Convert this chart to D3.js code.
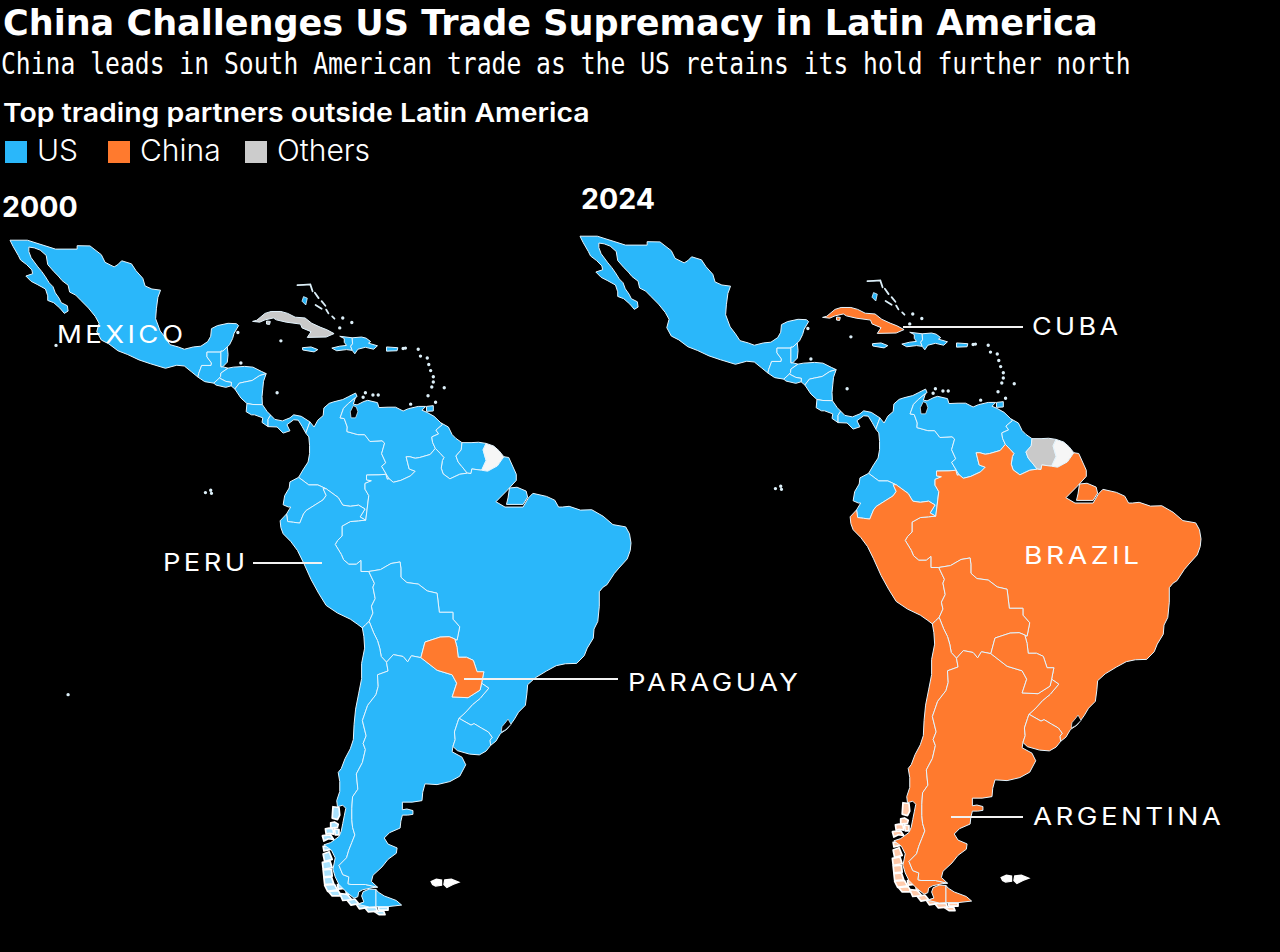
<!DOCTYPE html>
<html>
<head>
<meta charset="utf-8">
<script src="https://cdnjs.cloudflare.com/ajax/libs/d3/7.8.5/d3.min.js"></script>
<style>
  html, body { margin: 0; padding: 0; background: #000; }
  svg { display: block; }
  text { fill: #fff; font-family: Inter, "Noto Sans", sans-serif; }
</style>
</head>
<body>
<svg id="chart" width="1280" height="952"></svg>
<script>
// Outlines are lon/lat. Shared borders are one arc each.
var mxPacific = [[-117.1,32.5],[-116.7,31.7],[-116,30.5],[-115.7,29.9],[-114.9,29.3],[-114.2,28.6],[-114.1,28.1],[-115,27.8],[-114.3,27.1],[-113.5,26.7],[-112.4,26.1],[-112.1,25.2],[-112.1,24.6],[-111.3,24.3],[-110.5,23.6],[-109.9,22.9],[-109.4,23.2],[-109.5,23.9],[-110.3,24.3],[-110.6,24.9],[-111.1,25.6],[-111.4,26.4],[-111.9,26.9],[-112.4,27.7],[-112.9,28.4],[-113.4,29],[-114.3,30.2],[-114.6,31],[-114.6,31.6],[-113.9,31.5],[-113.1,31.2],[-112.3,30.5],[-112.1,29.3],[-111.3,28.4],[-110.7,27.8],[-110.2,27.2],[-109.4,26.6],[-109.2,25.7],[-108.4,25.3],[-107.7,24.6],[-106.7,23.6],[-105.8,22.5],[-105.3,21.6],[-105.6,20.5],[-105,19.4],[-104,18.9],[-102.8,18],[-101.5,17.5],[-100,16.8],[-98.5,16.3],[-96.5,15.7],[-95,16.1],[-94,16],[-93,15.2],[-92.2,14.55]];
var mxGt = [[-92.2,14.55],[-92.1,15],[-91.7,16.07],[-90.45,16.07],[-90.4,16.4],[-91,17.2],[-91,17.82],[-89.15,17.82]];
var mxBz = [[-89.15,17.82],[-89.15,17.95],[-88.9,17.95],[-88.3,18.5]];
var mxGulf = [[-88.3,18.5],[-88,18.8],[-87.6,19.6],[-87.4,20.3],[-86.8,21.3],[-87.1,21.55],[-88.2,21.6],[-89.6,21.3],[-90.4,20.9],[-90.5,19.9],[-90.9,19.2],[-91.8,18.6],[-92.8,18.5],[-94,18.2],[-94.8,18.5],[-95.9,18.8],[-96.5,19.7],[-97.2,20.6],[-97.8,22.2],[-97.7,23.5],[-97.5,25],[-97.15,25.95]];
var mxUs = [[-97.15,25.95],[-98.3,26.1],[-99.2,26.5],[-99.5,27.5],[-100.4,28.5],[-101,29.4],[-102.3,29.8],[-102.8,29.3],[-103.3,29],[-104.5,29.6],[-105,30.6],[-106.5,31.75],[-108.2,31.78],[-108.2,31.33],[-111.07,31.33],[-114.8,32.5],[-117.1,32.5]];
var gtBz = [[-89.15,17.82],[-89.15,15.9],[-88.9,15.9]];
var gtCarib = [[-88.9,15.9],[-88.2,15.72]];
var gtHn = [[-88.2,15.72],[-89.15,15.07],[-89.2,14.6],[-89.35,14.42]];
var gtSv = [[-89.35,14.42],[-90.1,13.75]];
var gtPacific = [[-90.1,13.75],[-91.3,13.95],[-92.2,14.55]];
var bzCoast = [[-88.3,18.5],[-88.2,17.5],[-88.3,16.5],[-88.9,15.9]];
var svHn = [[-89.35,14.42],[-88.5,13.98],[-87.75,13.85],[-87.8,13.4]];
var svPacific = [[-87.8,13.4],[-88.5,13.2],[-89.8,13.5],[-90.1,13.75]];
var hnCarib = [[-88.2,15.72],[-87.5,15.85],[-86,15.95],[-84.9,15.85],[-83.8,15.3],[-83.15,15]];
var hnNi = [[-83.15,15],[-84,14.75],[-85,14.1],[-86,13.9],[-86.7,13.75],[-87.3,12.98]];
var hnPacific = [[-87.3,12.98],[-87.8,13.4]];
var niCarib = [[-83.15,15],[-83.5,14],[-83.6,13],[-83.7,12],[-83.65,10.93]];
var niCr = [[-83.65,10.93],[-84.9,10.95],[-85.7,11.08]];
var niPacific = [[-85.7,11.08],[-86.5,11.8],[-87.3,12.98]];
var crCarib = [[-83.65,10.93],[-83,10],[-82.56,9.56]];
var crPa = [[-82.56,9.56],[-82.9,9],[-82.9,8.05]];
var crPacific = [[-82.9,8.05],[-83.7,8.6],[-83.6,9.2],[-84.7,9.6],[-85.1,9.6],[-85.8,10],[-85.7,11.08]];
var paCarib = [[-82.56,9.56],[-82,9],[-81,8.8],[-80,9.2],[-79.5,9.6],[-78.5,9.4],[-77.35,8.67]];
var paCo = [[-77.35,8.67],[-77.9,7.2]];
var paPacific = [[-77.9,7.2],[-78.4,8.1],[-78.9,8.9],[-79.5,8.95],[-80.4,8.3],[-80,7.5],[-80.9,7.2],[-81.7,8],[-82.9,8.05]];
var coCarib = [[-77.35,8.67],[-76.8,8],[-76.3,8.9],[-75.6,9.5],[-75.5,10.5],[-74.8,11.1],[-74.2,11.3],[-73,11.6],[-72.2,12],[-71.3,12.45],[-71.1,12],[-71.32,11.85]];
var coVe = [[-71.32,11.85],[-72.25,11.1],[-72.9,10.45],[-73.35,9.2],[-72.8,9.1],[-72.4,8],[-72.45,7.4],[-71,7],[-70.1,7],[-69.4,6.1],[-67.8,6.2],[-67.45,5.9],[-67.85,4.5],[-67.3,3.3],[-67.85,2.85],[-66.87,1.22]];
var coBr = [[-66.87,1.22],[-67.1,1.15],[-67.3,1.8],[-68.2,1.72],[-69.85,1.7],[-69.85,1.07],[-69.2,0.95],[-70.05,0.6],[-70.05,-0.15],[-69.55,-1],[-69.95,-4.22]];
var coPe = [[-69.95,-4.22],[-70.7,-3.8],[-70.05,-2.75],[-70.9,-2.25],[-72,-2.4],[-73,-2.25],[-73.6,-1.25],[-75.2,-0.1]];
var coEc = [[-75.2,-0.1],[-76.3,0.4],[-77.5,0.4],[-78.85,1.4]];
var coPacific = [[-78.85,1.4],[-78.2,2.5],[-77.6,3.4],[-77.4,4.5],[-77.4,5.6],[-77.5,6.7],[-77.9,7.2]];
var veCarib = [[-71.32,11.85],[-71.6,11],[-71.1,10.9],[-70.2,11.35],[-69.7,11.5],[-68.4,11.2],[-68.2,10.55],[-67,10.6],[-66,10.6],[-65,10.1],[-64.3,10.4],[-63,10.7],[-62,10.7],[-62.5,10.2],[-61.8,9.9],[-60.9,9.4],[-60,8.55]];
var veGy = [[-60,8.55],[-59.8,8.3],[-60.65,7.6],[-60.3,7.1],[-61.2,6.7],[-61.1,6],[-60.73,5.2]];
var veBr = [[-60.73,5.2],[-61.4,4.4],[-62.8,4],[-63.4,3.9],[-64.1,4.1],[-64.6,4.1],[-64.2,2.5],[-63.4,2.2],[-64,1.6],[-65.3,1],[-66.3,0.75],[-66.87,1.22]];
var gyCoast = [[-60,8.55],[-59,8],[-58.5,7],[-58,6.5],[-57.2,5.95]];
var gySr = [[-57.2,5.95],[-57.3,5],[-58,4.2],[-57.7,3.4],[-57.2,2.8],[-56.5,1.95]];
var gyBr = [[-56.5,1.95],[-57.5,1.8],[-58.8,1.2],[-59.7,1.85],[-59.95,2.6],[-59.8,3.6],[-59.6,4],[-60.1,4.55],[-60.73,5.2]];
var srCoast = [[-57.2,5.95],[-56,5.95],[-55,6],[-54,5.85]];
var srGf = [[-54,5.85],[-54.4,5],[-54,3.6],[-54.6,2.33]];
var srBr = [[-54.6,2.33],[-55.9,2.5],[-56,1.9],[-56.5,1.95]];
var gfCoast = [[-54,5.85],[-53,5.5],[-52.3,4.9],[-51.65,4.1]];
var gfBr = [[-51.65,4.1],[-52.5,2.9],[-53.8,2.2],[-54.6,2.33]];
var brCoast = [[-51.65,4.1],[-51,4],[-50,1.8],[-50,1],[-51.2,-0.3],[-52.7,-1.8],[-51.5,-2.5],[-49.1,-2.5],[-48.4,-1.3],[-47.8,-0.7],[-46,-1.1],[-44.9,-1.6],[-44.4,-2.5],[-43.9,-2.5],[-43,-2.4],[-41.5,-2.9],[-40,-2.85],[-38.5,-3.7],[-37.2,-4.8],[-35.5,-5.1],[-35,-6],[-34.8,-7.2],[-34.9,-8.2],[-35.3,-9.3],[-36.4,-10.5],[-37,-11.2],[-38,-12.7],[-38.5,-13],[-39,-13.6],[-39,-15.5],[-39.2,-17.5],[-39.7,-18.5],[-39.8,-19.7],[-40.6,-21],[-41,-22],[-42,-23],[-43.5,-23.05],[-44.7,-23.3],[-46,-24],[-47.5,-24.9],[-48.5,-25.8],[-48.6,-27],[-48.8,-28.5],[-49.7,-29.4],[-50.3,-30.4],[-51.2,-31.6],[-52.1,-32.2],[-52.7,-33.2],[-53.4,-33.75]];
var brUy = [[-53.4,-33.75],[-53.5,-33.1],[-53.2,-32.7],[-53.7,-32],[-54.6,-31.5],[-55.6,-30.9],[-56,-31.1],[-57.6,-30.2]];
var brAr = [[-57.6,-30.2],[-56.8,-29.5],[-55.8,-28.4],[-54.8,-27.6],[-53.65,-26.25],[-54.6,-25.6]];
var brPy = [[-54.6,-25.6],[-54.3,-24.1],[-55.2,-24.1],[-55.7,-22.6],[-56.6,-22.2],[-57.7,-22.2],[-57.85,-20.9],[-58.15,-19.8]];
var brBo = [[-58.15,-19.8],[-57.85,-19.95],[-57.5,-18.2],[-58.4,-17.2],[-58.4,-16.3],[-60.2,-16.3],[-60.5,-13.8],[-61.8,-13.5],[-63,-12.6],[-64.5,-12.4],[-65.3,-11.7],[-65.3,-10.5],[-65.4,-9.7],[-66.6,-9.9],[-68,-10.7],[-69.55,-10.95]];
var brPe = [[-69.55,-10.95],[-70.6,-10.95],[-70.6,-9.5],[-71.2,-10],[-72.2,-10],[-72.9,-9.4],[-73.2,-8.7],[-74,-7.4],[-73.7,-6.9],[-73.1,-6.3],[-73.1,-5],[-72,-4.4],[-70.9,-4.3],[-69.95,-4.22]];
var ecPacific = [[-78.85,1.4],[-80,0.8],[-80.1,0],[-80.7,-1],[-80.9,-2.2],[-80.2,-2.5],[-79.9,-2.5],[-80.45,-3.4]];
var ecPe = [[-80.45,-3.4],[-80.3,-4.4],[-79.5,-4.5],[-78.7,-4.6],[-78.2,-3.4],[-77.85,-2.95],[-75.6,-1.55],[-75.2,-0.97],[-75.6,-0.1],[-75.2,-0.1]];
var peCoast = [[-80.45,-3.4],[-81.3,-4.3],[-81.2,-5.2],[-80.9,-6],[-79.9,-7],[-79,-8.2],[-78.2,-9.8],[-77.2,-12],[-76.2,-13.8],[-75.2,-15.4],[-73.7,-16.4],[-72,-17.2],[-71,-17.9],[-70.4,-18.35]];
var peCl = [[-70.4,-18.35],[-69.95,-17.9],[-69.5,-17.5]];
var peBo = [[-69.5,-17.5],[-69,-16.4],[-69.2,-15.5],[-68.7,-14.5],[-69,-13],[-68.8,-12.5],[-69.55,-10.95]];
var boCl = [[-69.5,-17.5],[-68.9,-19],[-68.4,-20],[-68.1,-21],[-67.9,-22.1],[-67.2,-22.85]];
var boAr = [[-67.2,-22.85],[-66.3,-21.85],[-65,-22.1],[-64.4,-22.8],[-63.9,-22],[-62.65,-22.25]];
var boPy = [[-62.65,-22.25],[-62.1,-20.2],[-60.1,-19.55],[-58.9,-19.5],[-58.15,-19.8]];
var pyAr = [[-62.65,-22.25],[-60.5,-23.9],[-58.5,-24.5],[-57.9,-25.6],[-58.5,-27.4],[-56.4,-27.5],[-54.8,-26.5],[-54.6,-25.6]];
var arCl = [[-67.2,-22.85],[-67,-24],[-68.4,-24.5],[-68.3,-26],[-68.6,-27.1],[-69.7,-28.5],[-70.4,-30.5],[-69.9,-32.5],[-70.3,-33.5],[-70,-34.3],[-70.4,-36],[-71.2,-37.5],[-71,-39.5],[-71.7,-40.5],[-71.8,-42],[-71.8,-43.5],[-71.7,-44.5],[-71.4,-45.5],[-71.8,-46.5],[-72.2,-47.5],[-72.5,-48.5],[-73.5,-49.5],[-73,-50.7],[-72.2,-51],[-72.3,-51.9],[-71.9,-52],[-70,-52],[-68.4,-52.35]];
var arCoast = [[-58.4,-33.9],[-58.5,-34.6],[-57.2,-35.3],[-56.7,-36.3],[-57.5,-37.8],[-58.8,-38.5],[-60.5,-38.9],[-62.1,-38.8],[-62.4,-39.9],[-62.5,-41],[-63.8,-41.2],[-65.1,-41.2],[-65.1,-42.2],[-64.5,-42.1],[-63.7,-42.3],[-63.7,-42.8],[-64.4,-42.9],[-65.1,-42.9],[-65.3,-43.7],[-65.4,-44.6],[-66.8,-45.2],[-67.5,-45.9],[-67,-46.7],[-65.8,-47.2],[-65.9,-47.9],[-67,-48.7],[-67.8,-49.7],[-69,-50.8],[-69.2,-51.6],[-68.4,-52.35]];
var arUy = [[-58.4,-33.9],[-58.1,-33],[-58.2,-32],[-57.8,-30.8],[-57.6,-30.2]];
var uyCoast = [[-53.4,-33.75],[-54,-34.5],[-54.9,-35],[-56.2,-34.9],[-57.8,-34.45],[-58.4,-33.9]];
var clCoast = [[-70.4,-18.35],[-70.2,-19.5],[-70.1,-21],[-70.5,-23],[-70.5,-25],[-70.9,-27],[-71.3,-29],[-71.5,-31],[-71.6,-33],[-72,-34.2],[-72.7,-35.5],[-73.2,-36.8],[-73.6,-37.3],[-73.4,-38.5],[-73.4,-39.8],[-73.8,-41],[-73.7,-41.8],[-73,-41.6],[-72.6,-42],[-72.8,-43],[-73,-44],[-73.2,-45],[-73.5,-45.7],[-74.6,-46.5],[-75.5,-46.8],[-74.5,-47.5],[-74,-48.5],[-74.3,-50],[-74,-51],[-73.5,-52],[-72.5,-53],[-71.5,-53.8],[-71,-53.6],[-70.9,-53],[-70.4,-52.7],[-69,-52.4],[-68.4,-52.35]];

// islands, one ring each
var marajo = [[-50.9,0],[-49.9,0.1],[-48.7,-0.4],[-48.5,-1.2],[-49.1,-2.15],[-51.3,-2.15],[-51.1,-1.3]];
var tdfArgentina = [[-68.6,-52.65],[-68.6,-54.9],[-67,-54.9],[-65.2,-54.7],[-65.9,-54.1],[-67.5,-53.5],[-68.3,-53]];
var tdfChile = [[-68.6,-52.65],[-69.5,-52.6],[-70.3,-52.95],[-70.5,-53.5],[-70.2,-54.3],[-71,-54.6],[-69.5,-54.95],[-68.6,-54.9]];
var cuba = [[-84.95,21.85],[-84.4,22],[-83.3,22.9],[-82.5,23.15],[-81.2,23.15],[-80.3,22.9],[-79.3,22.4],[-78,22.3],[-77.1,21.6],[-76,21.1],[-75.1,20.75],[-74.15,20.25],[-75.2,19.8],[-77.7,19.75],[-77.2,20.5],[-78.4,21],[-78.6,21.5],[-80.5,21.75],[-81.8,22.05],[-82.2,22.3],[-83.3,22.05],[-84,21.75]];
var juventud = [[-83.1,21.9],[-82.6,21.85],[-82.7,21.45],[-83.1,21.5]];
var jamaica = [[-78.35,18.4],[-77.2,18.5],[-76.3,18.15],[-76.8,17.85],[-78.3,18.1]];
var haiti = [[-73.4,19.9],[-71.75,19.7],[-71.7,18.9],[-71.95,18.6],[-71.75,18.05],[-72.5,18.15],[-73.8,18],[-74.45,18.35],[-73.4,18.6],[-72.5,18.7],[-72.8,19.1],[-72.8,19.6]];
var dominican = [[-71.75,19.7],[-70.5,19.8],[-69.9,19.65],[-69.3,19.2],[-69.6,19],[-68.4,18.65],[-68.9,18.2],[-70,18.45],[-71,18.2],[-71.4,17.6],[-71.75,18.05],[-71.95,18.6],[-71.7,18.9]];
var puertoRico = [[-67.2,18.5],[-65.7,18.4],[-65.8,18],[-67.2,17.95]];
var trinidad = [[-61.9,10.7],[-61,10.8],[-61,10.1],[-61.9,10.05]];
var andros = [[-78.2,25.1],[-77.7,24.9],[-77.9,24],[-78.4,24.5]];
var falklandEast = [[-59.5,-51.4],[-58.6,-51.3],[-57.6,-51.7],[-58.4,-52],[-59.2,-52.4],[-59.6,-52]];
var falklandWest = [[-61.3,-51.6],[-60.6,-51.3],[-59.9,-51.4],[-59.9,-52.1],[-60.7,-52.2],[-61.1,-52]];

// southern Chile archipelago
var chileIslands = [
  [[-74.3,-41.8],[-73.5,-41.9],[-73.4,-42.9],[-73.7,-43.5],[-74.4,-43.3]],
  [[-74.6,-43.9],[-74.1,-43.8],[-73.6,-44.1],[-73.7,-44.5],[-74.6,-44.6]],
  [[-75.3,-44.7],[-74.8,-44.6],[-74.3,-44.7],[-74.2,-45.4],[-74.8,-45.3],[-75.2,-45.4]],
  [[-74.1,-44.7],[-73.5,-44.8],[-73.5,-45.5],[-74,-45.5]],
  [[-75.7,-45.6],[-74.6,-45.5],[-74.2,-46.1],[-74.9,-46],[-75.5,-46.3]],
  [[-75.6,-47],[-74.8,-46.9],[-74.6,-47.4],[-75.5,-47.6]],
  [[-75.6,-48],[-74.8,-47.7],[-74.4,-48.7],[-75.4,-49]],
  [[-75.7,-49.1],[-74.7,-48.9],[-74.4,-49.8],[-75.6,-50]],
  [[-75.6,-50.1],[-74.5,-50],[-74.4,-50.9],[-75.5,-51]],
  [[-75.5,-51.1],[-74.5,-51],[-74.2,-51.9],[-75.4,-52]],
  [[-75.4,-52.1],[-74.1,-52],[-73.7,-52.7],[-75,-52.9]],
  [[-74.9,-52.9],[-73.6,-52.8],[-73.2,-53.5],[-74.4,-53.5]],
  [[-73.4,-53.2],[-72.4,-53.3],[-71.8,-54],[-73,-54.1]],
  [[-72.4,-54.1],[-71.4,-53.9],[-70.9,-54.5],[-71.9,-54.7]],
  [[-71.2,-54.6],[-70,-54.4],[-69.6,-55],[-70.8,-55.2]],
  [[-70.1,-55],[-68.6,-55],[-68.4,-55.5],[-69.6,-55.6]],
  [[-68.3,-54.95],[-67,-54.95],[-67,-55.35],[-68.2,-55.35]],
  [[-68.8,-55.55],[-67.6,-55.45],[-67.4,-55.95],[-68.2,-55.95]],
  [[-73.7,-52],[-72.9,-52],[-72.8,-52.5],[-73.6,-52.6]],
  [[-72.6,-52.7],[-71.6,-52.6],[-71.6,-53.3],[-72.5,-53.3]]
];

// black water cut into the land
var lakes = [
  [[-71.6,10.8],[-71.2,10.6],[-71,10],[-71.3,9.2],[-71.9,9.2],[-72,10]],
  [[-51.1,-30.3],[-50.7,-31],[-51.4,-31.7],[-52,-32],[-51.9,-31.3],[-51.3,-30.6]]
];

// little islands too small to have an outline
var islets = [[-91.2,-0.6],[-90.4,-0.7],[-90.5,-0.3],[-81.2,19.3],[-81.7,12.5],[-86.5,16.4],[-86.9,20.4],[-73.4,21],[-73,22.3],[-71.8,21.7],[-64.7,18.35],[-65,18.3],[-63,18.2],[-62.7,17.3],[-61.8,17.05],[-61.6,16.2],[-61.35,15.4],[-61,14.6],[-61,13.9],[-61.2,13.25],[-61.7,12.1],[-59.55,13.15],[-60.7,11.25],[-70.3,11.9],[-70,12.5],[-69,12.2],[-68.3,12.2],[-64,11]];
var isletsFar2000 = [[-111,18.7],[-109.4,-27.1]];
var bahamasChains = [
  [[-79,26.6],[-78.2,26.65],[-77.3,26.7],[-77,25.8]],
  [[-76.7,25.6],[-76.2,24.9]],
  [[-75.8,24.5],[-75.3,23.9]],
  [[-76.6,24],[-75.8,23.5]],
  [[-75.2,23.4],[-74.9,22.9]],
  [[-74.4,22.5],[-74.1,22.2]]
];

var countryNames = ['Mexico','Guatemala','Belize','Honduras','El Salvador','Nicaragua','Costa Rica','Panama','Colombia','Venezuela','Guyana','Suriname','French Guiana','Brazil','Ecuador','Peru','Bolivia','Chile','Argentina','Paraguay','Uruguay','Cuba','Jamaica','Haiti','Dominican Republic','Puerto Rico','Trinidad'];

// everything not listed here goes to the US
var china2000 = ['Paraguay'];
var others2000 = ['Cuba'];
var pale2000 = ['French Guiana'];
var china2024 = ['Cuba','Brazil','Peru','Bolivia','Chile','Argentina','Paraguay','Uruguay'];
var others2024 = ['Suriname'];
var pale2024 = ['French Guiana'];

var legendLabels = ['US','China','Others'];
var calloutNames2000 = ['MEXICO','PERU','PARAGUAY'];
var calloutNames2024 = ['CUBA','BRAZIL','ARGENTINA'];

var BLUE = '#2AB7FA', ORANGE = '#FF7A2E', GREY = '#C9C9C9', PALE = '#F6F6F6';

function rev(a) { return a.slice().reverse(); }
function ring() {
  var pts = [].concat.apply([], arguments);
  return pts.concat([pts[0]]);
}
function poly(a) { return a.concat([a[0]]); }

var rings = {
  'Mexico': [ring(mxPacific, mxGt, mxBz, mxGulf, mxUs)],
  'Guatemala': [ring(mxGt, gtBz, gtCarib, gtHn, gtSv, gtPacific)],
  'Belize': [ring(mxBz, bzCoast, rev(gtBz))],
  'Honduras': [ring(hnCarib, hnNi, hnPacific, rev(svHn), rev(gtHn))],
  'El Salvador': [ring(svHn, svPacific, rev(gtSv))],
  'Nicaragua': [ring(niCarib, niCr, niPacific, rev(hnNi))],
  'Costa Rica': [ring(crCarib, crPa, crPacific, rev(niCr))],
  'Panama': [ring(paCarib, paCo, paPacific, rev(crPa))],
  'Colombia': [ring(coCarib, coVe, coBr, coPe, coEc, coPacific, rev(paCo))],
  'Venezuela': [ring(veCarib, veGy, veBr, rev(coVe))],
  'Guyana': [ring(gyCoast, gySr, gyBr, rev(veGy))],
  'Suriname': [ring(srCoast, srGf, srBr, rev(gySr))],
  'French Guiana': [ring(gfCoast, gfBr, rev(srGf))],
  'Brazil': [ring(brCoast, brUy, brAr, brPy, brBo, brPe, rev(coBr), rev(veBr), rev(gyBr), rev(srBr), rev(gfBr)), poly(marajo)],
  'Ecuador': [ring(coEc, ecPacific, ecPe)],
  'Peru': [ring(rev(ecPe), peCoast, peCl, peBo, brPe, coPe)],
  'Bolivia': [ring(rev(peBo), boCl, boAr, boPy, brBo)],
  'Chile': [ring(clCoast, rev(arCl), rev(boCl), rev(peCl)), poly(tdfChile)],
  'Argentina': [ring(arCl, rev(arCoast), arUy, brAr, rev(pyAr), rev(boAr)), poly(tdfArgentina)],
  'Paraguay': [ring(pyAr, brPy, rev(boPy))],
  'Uruguay': [ring(uyCoast, arUy, rev(brUy))],
  'Cuba': [poly(cuba), poly(juventud)],
  'Jamaica': [poly(jamaica)],
  'Haiti': [poly(haiti)],
  'Dominican Republic': [poly(dominican)],
  'Puerto Rico': [poly(puertoRico)],
  'Trinidad': [poly(trinidad)]
};

function feature(coords) {
  return { type: 'MultiPolygon', coordinates: coords.map(function (r) { return [r]; }) };
}

var lonScale = d3.scaleLinear().domain([-117.1, -34.8]).range([10, 631]);
var latScale = d3.scaleLinear().domain([0, -56]).range([488, 915]);
var path = d3.geoPath(d3.geoTransform({
  point: function (lon, lat) { this.stream.point(lonScale(lon), latScale(lat)); }
})).pointRadius(1.7);

var svg = d3.select('#chart');

// the reference is a soft jpeg, so the maps get a touch of blur
svg.append('defs').append('filter').attr('id', 'soft')
  .append('feGaussianBlur').attr('stdDeviation', 0.4);

// squeeze a text sideways until it is len wide
function fitted(txt, x, y, size, weight, family, len, spacing) {
  var t = svg.append('text')
    .attr('font-size', size).attr('font-weight', weight)
    .style('font-family', family)
    .style('letter-spacing', (spacing || 0) + 'px')
    .text(txt);
  var k = len / (t.node().getComputedTextLength() - (spacing || 0));
  t.attr('transform', 'translate(' + x + ',' + y + ') scale(' + k + ',1)');
  return t;
}

fitted('China Challenges US Trade Supremacy in Latin America', 3, 35, 36, 700, '"DejaVu Sans"', 1095);
fitted('China leads in South American trade as the US retains its hold further north', 1, 74, 30, 400, '"DejaVu Sans Mono"', 1130);
fitted('Top trading partners outside Latin America', 3, 122, 26, 600, 'Inter', 587);

// legend
var legendX = d3.scaleOrdinal().domain(legendLabels).range([5, 108, 245]);
var legendColor = d3.scaleOrdinal().domain(legendLabels).range([BLUE, ORANGE, '#CCCCCC']);
var legend = svg.append('g').selectAll('g').data(legendLabels).enter().append('g')
  .attr('transform', function (d) { return 'translate(' + legendX(d) + ',141)'; });
legend.append('rect').attr('width', 22).attr('height', 22).attr('fill', function (d) { return legendColor(d); });
legend.append('text').attr('x', 32).attr('y', 20).attr('font-size', 30).attr('font-weight', 300)
  .text(function (d) { return d; });

function drawMap(dx, dy, china, others, pale, extra) {
  var g = svg.append('g').attr('transform', 'translate(' + dx + ',' + dy + ')').attr('filter', 'url(#soft)');
  function fill(name) {
    if (china.indexOf(name) >= 0) return ORANGE;
    if (others.indexOf(name) >= 0) return GREY;
    if (pale.indexOf(name) >= 0) return PALE;
    return BLUE;
  }
  var chileFill = fill('Chile');

  g.selectAll('path.fringe').data(chileIslands).enter().append('path')
    .attr('class', 'fringe')
    .attr('d', function (d) { return path(feature([poly(d)])); })
    .attr('fill', d3.interpolateRgb(chileFill, '#fff')(0.6))
    .attr('stroke', '#fff').attr('stroke-width', 1.7).attr('stroke-linejoin', 'round');

  g.selectAll('path.country').data(countryNames).enter().append('path')
    .attr('class', 'country')
    .attr('d', function (d) { return path(feature(rings[d])); })
    .attr('fill', fill)
    .attr('stroke', '#E4F5FF').attr('stroke-width', 1).attr('stroke-linejoin', 'round');

  g.selectAll('path.lake').data(lakes).enter().append('path')
    .attr('class', 'lake')
    .attr('d', function (d) { return path(feature([poly(d)])); })
    .attr('fill', '#000').attr('stroke', '#E4F5FF').attr('stroke-width', 0.7);

  g.selectAll('path.falkland').data([falklandEast, falklandWest]).enter().append('path')
    .attr('class', 'falkland')
    .attr('d', function (d) { return path(feature([poly(d)])); })
    .attr('fill', '#fff').attr('stroke', '#fff').attr('stroke-width', 1.2);

  g.append('path')
    .attr('d', path(feature([poly(andros)])))
    .attr('fill', BLUE).attr('stroke', '#E4F5FF').attr('stroke-width', 0.8);

  g.append('path')
    .datum({ type: 'MultiLineString', coordinates: bahamasChains })
    .attr('d', path)
    .attr('fill', 'none').attr('stroke', '#DCEFF8').attr('stroke-width', 1.8).attr('stroke-linecap', 'round');

  g.append('path')
    .datum({ type: 'MultiPoint', coordinates: islets.concat(extra) })
    .attr('d', path)
    .attr('fill', '#DCEFF8');
}

drawMap(0, 0, china2000, others2000, pale2000, isletsFar2000);
drawMap(570, -4, china2024, others2024, pale2024, []);

// year labels
svg.append('text').attr('x', 2).attr('y', 217).attr('font-size', 28.5).attr('font-weight', 700).text('2000');
svg.append('text').attr('x', 581).attr('y', 209).attr('font-size', 28.5).attr('font-weight', 700).text('2024');

// callouts
function leader(x1, x2, y) {
  svg.append('line').attr('x1', x1).attr('x2', x2).attr('y1', y).attr('y2', y)
    .attr('stroke', '#F2F2F2').attr('stroke-width', 2);
}
function callout(txt, x, y, len) {
  fitted(txt, x, y, 24, 400, 'Inter', len, 3);
}
leader(253, 322, 563);
leader(464, 618, 679);
leader(903, 1023, 327);
leader(951, 1023, 817);
callout(calloutNames2000[0], 57, 343, 126);
callout(calloutNames2000[1], 163, 571, 82);
callout(calloutNames2000[2], 628, 691, 170);
callout(calloutNames2024[0], 1032, 335, 86);
callout(calloutNames2024[1], 1024, 564, 115);
callout(calloutNames2024[2], 1033, 825, 188);
</script>
</body>
</html>
